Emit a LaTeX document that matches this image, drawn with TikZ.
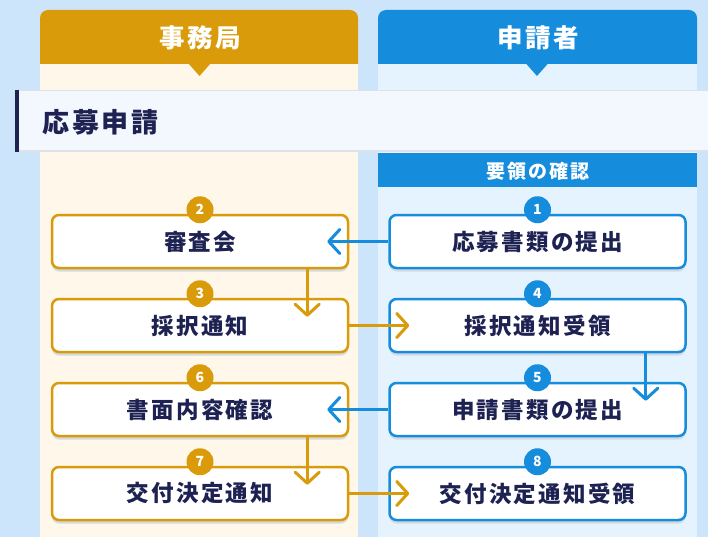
\documentclass[tikz,border=0pt]{standalone}
\usepackage{fontspec}
\setmainfont{Noto Sans CJK JP}[LetterSpace=10]
\usetikzlibrary{arrows.meta,shadows}
\definecolor{bgblue}{HTML}{CDE5FB}
\definecolor{gold}{HTML}{DA9B0B}
\definecolor{cream}{HTML}{FFF7EA}
\definecolor{jblue}{HTML}{168CDC}
\definecolor{paleblue}{HTML}{E5F3FE}
\definecolor{navy}{HTML}{1D2253}
\definecolor{barfill}{HTML}{F3F7FE}
\definecolor{barline}{HTML}{DEE2E8}
\definecolor{shadowgray}{HTML}{D3DAE2}
\begin{document}
\begin{tikzpicture}[x=1pt,y=-1pt,
  flowbox/.style={draw=#1,line width=2.5pt,rounded corners=7pt,fill=white,minimum width=296pt,minimum height=53pt,
    drop shadow={shadow xshift=0pt,shadow yshift=-3.5pt,fill=shadowgray,opacity=1},
    text=navy,font=\bfseries\fontsize{22.5}{26}\selectfont},
  num/.style={circle,fill=#1,text=white,minimum size=27pt,inner sep=0pt,font=\bfseries\fontsize{14}{14}\selectfont},
  flow/.style={draw=#1,line width=3pt,-{Straight Barb[length=11pt,width=24pt,round]}}]
  \fill[bgblue] (0,0) rectangle (708,537);
  \useasboundingbox (0,0) rectangle (708,537);
  % columns
  \fill[cream] (40,64) rectangle (358,537);
  \fill[paleblue] (378,64) rectangle (697,537);
  \fill[gold] (40,64) [rounded corners=8pt] -- (40,10) -- (358,10) [sharp corners] -- (358,64) -- cycle;
  \fill[jblue] (378,64) [rounded corners=8pt] -- (378,10) -- (697,10) [sharp corners] -- (697,64) -- cycle;
  \fill[gold] (188,63) -- (211,63) -- (199.5,76) -- cycle;
  \fill[jblue] (525.5,63) -- (548.5,63) -- (537,76) -- cycle;
  \node[text=white,font=\bfseries\fontsize{25.5}{28}\selectfont] (office) at (200,38) {事務局};
  \node[text=white,font=\bfseries\fontsize{25.5}{28}\selectfont] (applicant) at (538,38) {申請者};
  % bar
  \fill[barfill] (15,90) rectangle (708,152);
  \draw[barline,line width=1.5pt] (19,90.75) -- (708,90.75) (19,151.25) -- (708,151.25);
  \fill[navy] (15,90) rectangle (19,152);
  \node[anchor=west,text=navy,font=\bfseries\fontsize{27}{30}\selectfont] (apply) at (39,122) {応募申請};
  \fill[jblue] (378,153) rectangle (697,187);
  \node[text=white,font=\bfseries\fontsize{19}{22}\selectfont] (guide) at (538,171) {要領の確認};
  % steps
  \node[flowbox=gold] (review) at (200,241.5) {審査会};
  \node[flowbox=gold] (notice) at (200,325.5) {採択通知};
  \node[flowbox=gold] (check) at (200,409.5) {書面内容確認};
  \node[flowbox=gold] (grant) at (200,493.5) {交付決定通知};
  \node[flowbox=jblue] (submit) at (537.5,241.5) {応募書類の提出};
  \node[flowbox=jblue] (accept) at (537.5,325.5) {採択通知受領};
  \node[flowbox=jblue] (papers) at (537.5,409.5) {申請書類の提出};
  \node[flowbox=jblue] (receipt) at (537.5,493.5) {交付決定通知受領};
  \node[num=jblue] (n1) at ([yshift=4pt]submit.north) {1};
  \node[num=gold] (n2) at ([yshift=4pt]review.north) {2};
  \node[num=gold] (n3) at ([yshift=4pt]notice.north) {3};
  \node[num=jblue] (n4) at ([yshift=4pt]accept.north) {4};
  \node[num=jblue] (n5) at ([yshift=4pt]papers.north) {5};
  \node[num=gold] (n6) at ([yshift=4pt]check.north) {6};
  \node[num=gold] (n7) at ([yshift=4pt]grant.north) {7};
  \node[num=jblue] (n8) at ([yshift=4pt]receipt.north) {8};
  % arrows
  \draw[flow=jblue] (submit.west) -- ([xshift=-22pt]review.east);
  \draw[flow=gold] ([xshift=-42pt]review.south east) -- ([xshift=-42pt,yshift=-19pt]notice.north east);
  \draw[flow=gold] (notice.east) -- ([xshift=21pt]accept.west);
  \draw[flow=jblue] ([xshift=-41pt]accept.south east) -- ([xshift=-41pt,yshift=-19pt]papers.north east);
  \draw[flow=jblue] (papers.west) -- ([xshift=-22pt]check.east);
  \draw[flow=gold] ([xshift=-42pt]check.south east) -- ([xshift=-42pt,yshift=-19pt]grant.north east);
  \draw[flow=gold] (grant.east) -- ([xshift=21pt]receipt.west);
\end{tikzpicture}
\end{document}
